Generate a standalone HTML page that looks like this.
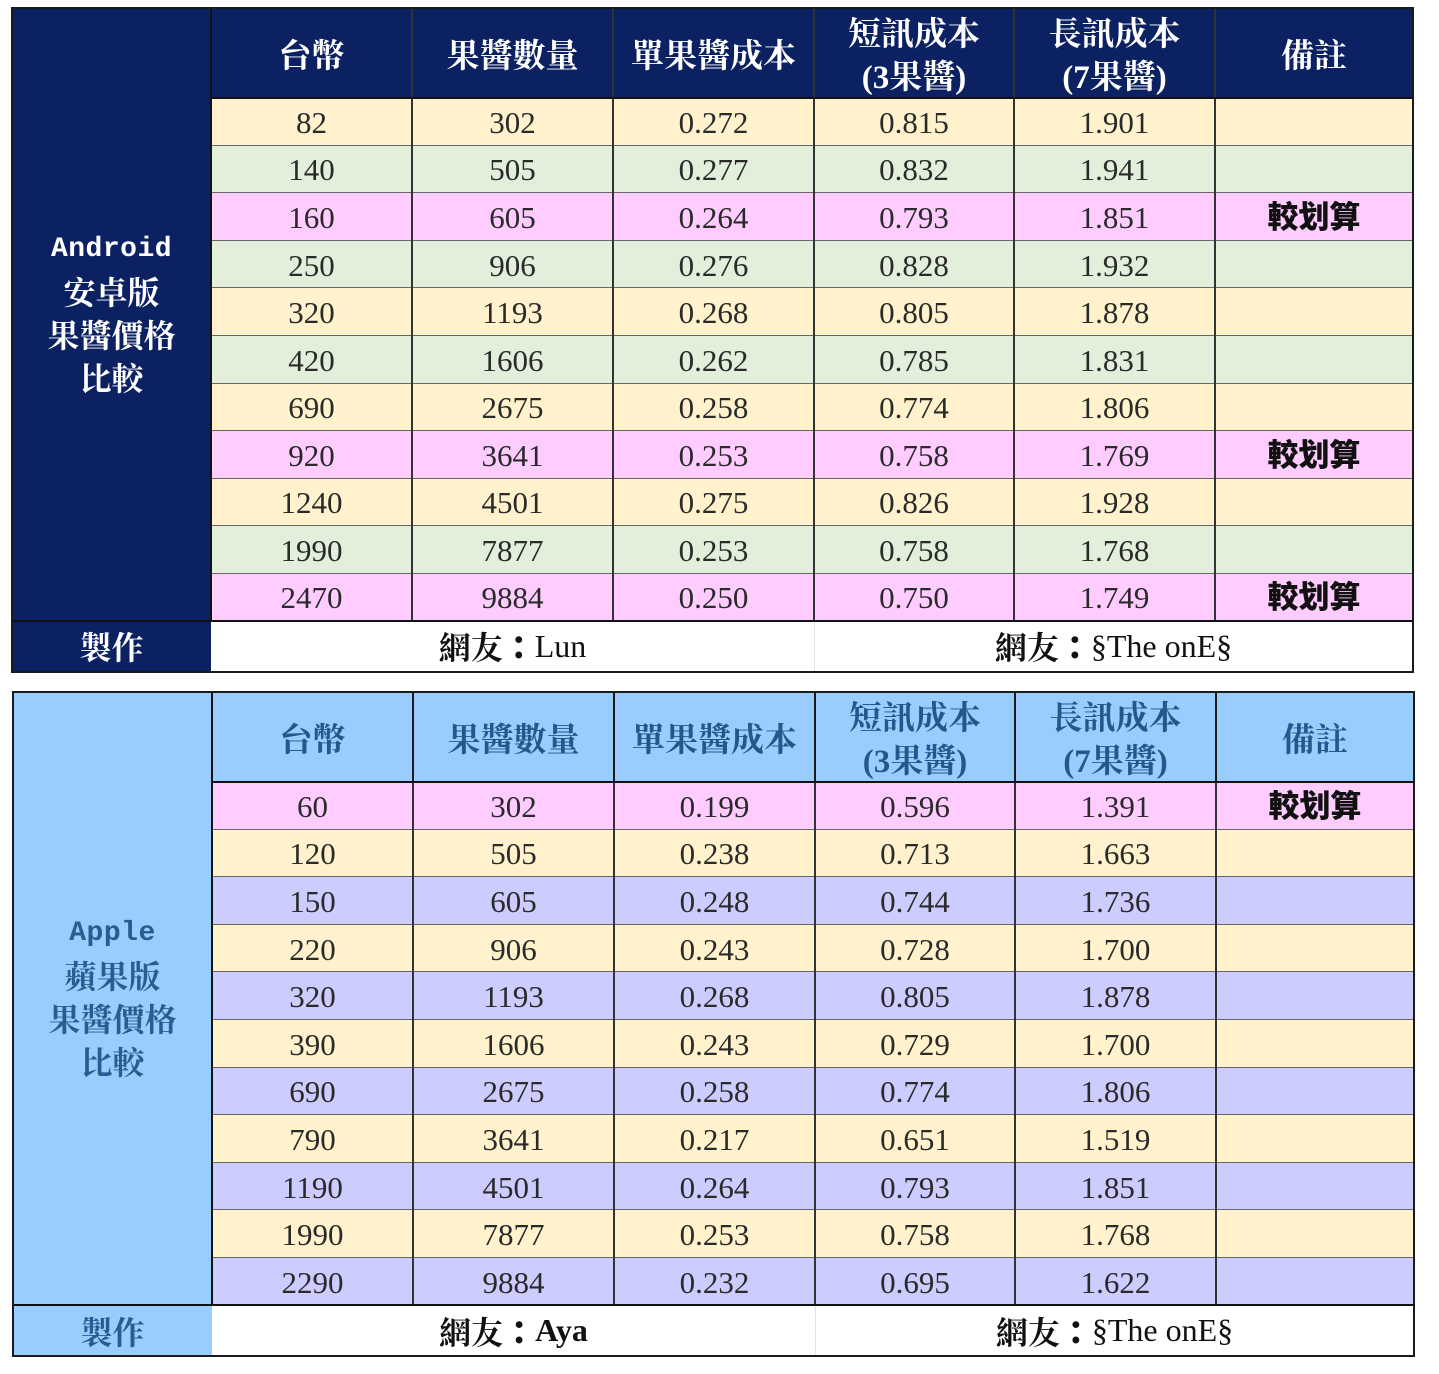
<!DOCTYPE html>
<html><head><meta charset="utf-8">
<style>
body{margin:0;width:1439px;height:1374px;background:#fff;position:relative;overflow:hidden}
.t{position:absolute;width:1401px;height:664px}
.side{position:absolute;left:0;top:0;width:199px;display:flex;flex-direction:column;align-items:center;justify-content:center;text-align:center}
.side .en{font:bold 28px "Liberation Mono",monospace;line-height:44px;letter-spacing:0.5px}
.side .zh{font:bold 32px "Liberation Serif","Noto Serif CJK SC",serif;line-height:43px}
.hdr{position:absolute;left:199px;top:0;width:1202px;display:flex}
.hdr div{display:flex;align-items:center;justify-content:center;text-align:center;box-sizing:border-box;padding-top:9px;font:bold 33px "Liberation Serif","Noto Serif CJK SC",serif;line-height:43px}
.row{position:absolute;left:199px;width:1202px;display:flex}
.row div{display:flex;align-items:center;justify-content:center;height:100%;box-sizing:border-box;padding-top:3px;font:31px "Liberation Serif","Noto Serif CJK SC",serif;line-height:1.1;color:#2a2a2a}
.w1{width:201px}.w2{width:201px}.w3{width:201px}.w4{width:200px}.w5{width:201px}.w6{width:198px}
.row div.r{font:900 31px "Liberation Sans","Noto Sans CJK TC",sans-serif;line-height:1.1;color:#111;padding-top:3px}
.Y{background:#fff2cc}.G{background:#e2efda}.P{background:#ffccff}.L{background:#ccccff}
.foot{position:absolute;left:0;width:1401px;display:flex;background:#fff}
.foot div{display:flex;align-items:center;justify-content:center;font:32px "Liberation Serif","Noto Serif CJK SC",serif;color:#111}
.foot b{font-family:"Liberation Serif","Noto Serif CJK SC",serif;font-weight:bold}
.foot b.c{font-family:"Liberation Sans","Noto Sans CJK TC",sans-serif;font-weight:900}
.vl{position:absolute;width:2px;background:#222}
.hl{position:absolute;left:199px;width:1202px;height:1px;background:#666}
.hb{position:absolute;height:2px;background:#111}
.ob{position:absolute;left:-1px;top:-1px;width:1403px;height:666px;box-sizing:border-box;border:2px solid #1a1a1a}
</style></head><body>

<!-- TOP TABLE -->
<div class="t" style="left:12px;top:8px;background:#0b2161">
  <div class="side" style="height:612.75px;color:#fff">
    <div class="en">Android</div>
    <div class="zh">安卓版</div>
    <div class="zh">果醬價格</div>
    <div class="zh">比較</div>
  </div>
  <div class="hdr" style="height:89.7px;color:#fff">
    <div class="w1">台幣</div><div class="w2">果醬數量</div><div class="w3">單果醬成本</div>
    <div class="w4">短訊成本<br>(3果醬)</div><div class="w5">長訊成本<br>(7果醬)</div><div class="w6">備註</div>
  </div>
  <div class="row Y" style="top:89.7px;height:47.55px"><div class="w1">82</div><div class="w2">302</div><div class="w3">0.272</div><div class="w4">0.815</div><div class="w5">1.901</div><div class="w6"></div></div>
  <div class="row G" style="top:137.25px;height:47.55px"><div class="w1">140</div><div class="w2">505</div><div class="w3">0.277</div><div class="w4">0.832</div><div class="w5">1.941</div><div class="w6"></div></div>
  <div class="row P" style="top:184.8px;height:47.55px"><div class="w1">160</div><div class="w2">605</div><div class="w3">0.264</div><div class="w4">0.793</div><div class="w5">1.851</div><div class="w6 r">較划算</div></div>
  <div class="row G" style="top:232.35px;height:47.55px"><div class="w1">250</div><div class="w2">906</div><div class="w3">0.276</div><div class="w4">0.828</div><div class="w5">1.932</div><div class="w6"></div></div>
  <div class="row Y" style="top:279.9px;height:47.55px"><div class="w1">320</div><div class="w2">1193</div><div class="w3">0.268</div><div class="w4">0.805</div><div class="w5">1.878</div><div class="w6"></div></div>
  <div class="row G" style="top:327.45px;height:47.55px"><div class="w1">420</div><div class="w2">1606</div><div class="w3">0.262</div><div class="w4">0.785</div><div class="w5">1.831</div><div class="w6"></div></div>
  <div class="row Y" style="top:375px;height:47.55px"><div class="w1">690</div><div class="w2">2675</div><div class="w3">0.258</div><div class="w4">0.774</div><div class="w5">1.806</div><div class="w6"></div></div>
  <div class="row P" style="top:422.55px;height:47.55px"><div class="w1">920</div><div class="w2">3641</div><div class="w3">0.253</div><div class="w4">0.758</div><div class="w5">1.769</div><div class="w6 r">較划算</div></div>
  <div class="row Y" style="top:470.1px;height:47.55px"><div class="w1">1240</div><div class="w2">4501</div><div class="w3">0.275</div><div class="w4">0.826</div><div class="w5">1.928</div><div class="w6"></div></div>
  <div class="row G" style="top:517.65px;height:47.55px"><div class="w1">1990</div><div class="w2">7877</div><div class="w3">0.253</div><div class="w4">0.758</div><div class="w5">1.768</div><div class="w6"></div></div>
  <div class="row P" style="top:565.2px;height:47.55px"><div class="w1">2470</div><div class="w2">9884</div><div class="w3">0.250</div><div class="w4">0.750</div><div class="w5">1.749</div><div class="w6 r">較划算</div></div>
  <div class="foot" style="top:612.75px;height:51.25px">
    <div style="width:199px;background:#0b2161;color:#fff"><b>製作</b></div>
    <div style="width:603px"><b>網友</b><b class="c">：</b>Lun</div>
    <div style="width:599px"><b>網友</b><b class="c">：</b>§The onE§</div>
  </div>
  <!-- lines -->
  <div class="hl" style="top:136.75px"></div><div class="hl" style="top:184.3px"></div><div class="hl" style="top:231.85px"></div>
  <div class="hl" style="top:279.4px"></div><div class="hl" style="top:326.95px"></div><div class="hl" style="top:374.5px"></div>
  <div class="hl" style="top:422.05px"></div><div class="hl" style="top:469.6px"></div><div class="hl" style="top:517.15px"></div>
  <div class="hl" style="top:564.7px"></div>
  <div class="vl" style="left:198px;top:0;height:613px;background:#111"></div>
  <div class="vl" style="left:399px;top:0;height:613px;width:1.5px;background:#333"></div>
  <div class="vl" style="left:600px;top:0;height:613px;width:1.5px;background:#333"></div>
  <div class="vl" style="left:801px;top:0;height:613px;width:1.5px;background:#333"></div>
  <div class="vl" style="left:1001px;top:0;height:613px;width:1.5px;background:#333"></div>
  <div class="vl" style="left:1202px;top:0;height:613px;width:1.5px;background:#333"></div>
  <div class="hb" style="left:199px;top:88.7px;width:1202px"></div>
  <div class="hb" style="left:0;top:611.75px;width:1401px"></div>
  <div class="vl" style="left:802px;top:614px;height:50px;width:1px;background:#e4e4e4"></div>
  <div class="ob"></div>
</div>

<!-- BOTTOM TABLE -->
<div class="t" style="left:13px;top:692px;background:#99ccff">
  <div class="side" style="height:613.1px;color:#2b5c8f">
    <div class="en">Apple</div>
    <div class="zh">蘋果版</div>
    <div class="zh">果醬價格</div>
    <div class="zh">比較</div>
  </div>
  <div class="hdr" style="height:89.5px;color:#24588c">
    <div class="w1">台幣</div><div class="w2">果醬數量</div><div class="w3">單果醬成本</div>
    <div class="w4">短訊成本<br>(3果醬)</div><div class="w5">長訊成本<br>(7果醬)</div><div class="w6">備註</div>
  </div>
  <div class="row P" style="top:89.5px;height:47.6px"><div class="w1">60</div><div class="w2">302</div><div class="w3">0.199</div><div class="w4">0.596</div><div class="w5">1.391</div><div class="w6 r">較划算</div></div>
  <div class="row Y" style="top:137.1px;height:47.6px"><div class="w1">120</div><div class="w2">505</div><div class="w3">0.238</div><div class="w4">0.713</div><div class="w5">1.663</div><div class="w6"></div></div>
  <div class="row L" style="top:184.7px;height:47.6px"><div class="w1">150</div><div class="w2">605</div><div class="w3">0.248</div><div class="w4">0.744</div><div class="w5">1.736</div><div class="w6"></div></div>
  <div class="row Y" style="top:232.3px;height:47.6px"><div class="w1">220</div><div class="w2">906</div><div class="w3">0.243</div><div class="w4">0.728</div><div class="w5">1.700</div><div class="w6"></div></div>
  <div class="row L" style="top:279.9px;height:47.6px"><div class="w1">320</div><div class="w2">1193</div><div class="w3">0.268</div><div class="w4">0.805</div><div class="w5">1.878</div><div class="w6"></div></div>
  <div class="row Y" style="top:327.5px;height:47.6px"><div class="w1">390</div><div class="w2">1606</div><div class="w3">0.243</div><div class="w4">0.729</div><div class="w5">1.700</div><div class="w6"></div></div>
  <div class="row L" style="top:375.1px;height:47.6px"><div class="w1">690</div><div class="w2">2675</div><div class="w3">0.258</div><div class="w4">0.774</div><div class="w5">1.806</div><div class="w6"></div></div>
  <div class="row Y" style="top:422.7px;height:47.6px"><div class="w1">790</div><div class="w2">3641</div><div class="w3">0.217</div><div class="w4">0.651</div><div class="w5">1.519</div><div class="w6"></div></div>
  <div class="row L" style="top:470.3px;height:47.6px"><div class="w1">1190</div><div class="w2">4501</div><div class="w3">0.264</div><div class="w4">0.793</div><div class="w5">1.851</div><div class="w6"></div></div>
  <div class="row Y" style="top:517.9px;height:47.6px"><div class="w1">1990</div><div class="w2">7877</div><div class="w3">0.253</div><div class="w4">0.758</div><div class="w5">1.768</div><div class="w6"></div></div>
  <div class="row L" style="top:565.5px;height:47.6px"><div class="w1">2290</div><div class="w2">9884</div><div class="w3">0.232</div><div class="w4">0.695</div><div class="w5">1.622</div><div class="w6"></div></div>
  <div class="foot" style="top:613.1px;height:50.9px">
    <div style="width:199px;background:#99ccff;color:#2b5c8f"><b>製作</b></div>
    <div style="width:603px"><b>網友</b><b class="c">：</b><b>Aya</b></div>
    <div style="width:599px"><b>網友</b><b class="c">：</b>§The onE§</div>
  </div>
  <!-- lines -->
  <div class="hl" style="top:136.6px"></div><div class="hl" style="top:184.2px"></div><div class="hl" style="top:231.8px"></div>
  <div class="hl" style="top:279.4px"></div><div class="hl" style="top:327px"></div><div class="hl" style="top:374.6px"></div>
  <div class="hl" style="top:422.2px"></div><div class="hl" style="top:469.8px"></div><div class="hl" style="top:517.4px"></div>
  <div class="hl" style="top:565px"></div>
  <div class="vl" style="left:198px;top:0;height:613px;background:#111"></div>
  <div class="vl" style="left:399px;top:0;height:89px;background:#1a1a1a"></div>
  <div class="vl" style="left:600px;top:0;height:89px;background:#1a1a1a"></div>
  <div class="vl" style="left:801px;top:0;height:89px;background:#1a1a1a"></div>
  <div class="vl" style="left:1001px;top:0;height:89px;background:#1a1a1a"></div>
  <div class="vl" style="left:1202px;top:0;height:89px;background:#1a1a1a"></div>
  <div class="vl" style="left:399px;top:89px;height:524px;width:1.5px;background:#333"></div>
  <div class="vl" style="left:600px;top:89px;height:524px;width:1.5px;background:#333"></div>
  <div class="vl" style="left:801px;top:89px;height:524px;width:1.5px;background:#333"></div>
  <div class="vl" style="left:1001px;top:89px;height:524px;width:1.5px;background:#333"></div>
  <div class="vl" style="left:1202px;top:89px;height:524px;width:1.5px;background:#333"></div>
  <div class="hb" style="left:199px;top:88.5px;width:1202px"></div>
  <div class="hb" style="left:0;top:612.1px;width:1401px"></div>
  <div class="vl" style="left:802px;top:614px;height:50px;width:1px;background:#e4e4e4"></div>
  <div class="ob"></div>
</div>

</body></html>
